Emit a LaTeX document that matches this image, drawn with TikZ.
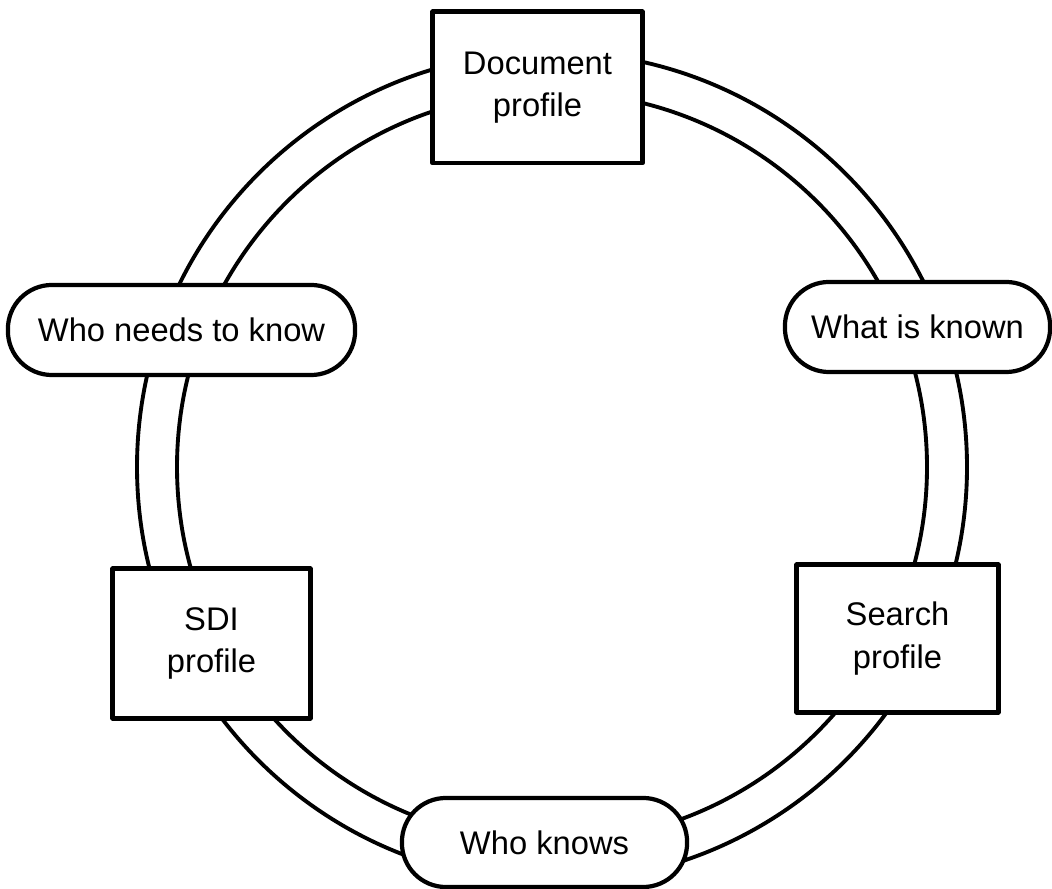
\documentclass[tikz,border=0pt]{standalone}
\usepackage{fontspec}
\setmainfont{Liberation Sans}
\begin{document}
\begin{tikzpicture}[x=0.01cm, y=-0.01cm, line join=round, line cap=round,
  font=\fontsize{9.3}{12}\selectfont,
  ring/.style={line width=1.1pt},
  box/.style={draw, line width=1.4pt, fill=white, inner sep=0pt, align=center},
  pill/.style={draw, line width=1.2pt, fill=white, inner sep=0pt, rounded corners=4.4mm, align=center}]
\useasboundingbox (0,0) rectangle (1052,889);
\coordinate (O) at (552,467);
\draw[ring] (O) circle[radius=415] (O) circle[radius=375];
\node[box, minimum width=2.09cm, minimum height=1.51cm] (doc) at (537.5,87.5) {Document\\profile};
\node[pill, minimum width=2.65cm, minimum height=0.9cm] (known) at (917.5,327) {What is known};
\node[box, minimum width=2.01cm, minimum height=1.47cm] (search) at (897.5,638.5) {Search\\profile};
\node[pill, minimum width=2.85cm, minimum height=0.89cm] (knows) at (544.5,842.5) {Who knows};
\node[box, minimum width=1.97cm, minimum height=1.49cm] (sdi) at (211.5,643.5) {SDI\\profile};
\node[pill, minimum width=3.47cm, minimum height=0.9cm] (needs) at (181.5,330) {Who needs to know};
\end{tikzpicture}
\end{document}
